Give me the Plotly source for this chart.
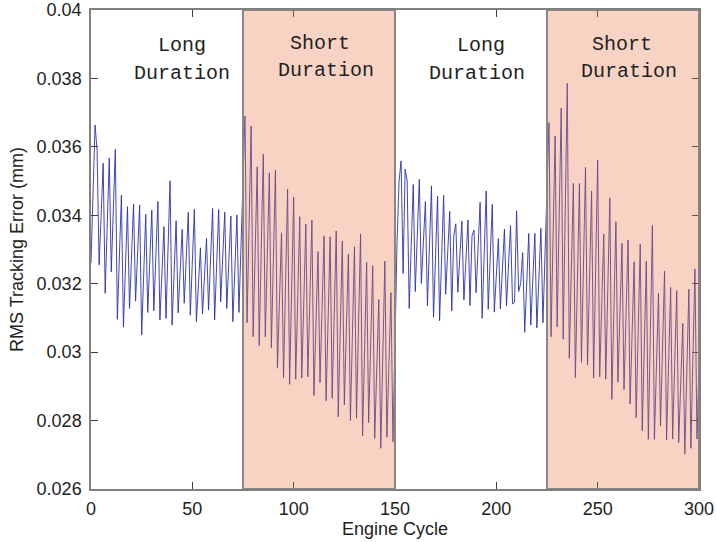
import plotly.graph_objects as go

# ---- data ----
cycles = list(range(0, 301))

long1 = [0.03260, 0.03480, 0.03664, 0.03590, 0.03255, 0.03400, 0.03552, 0.03172, 0.03370, 0.03567,
         0.03235, 0.03410, 0.03593, 0.03096, 0.03280, 0.03459, 0.03073, 0.03250, 0.03425, 0.03128,
         0.03280, 0.03433, 0.03149, 0.03290, 0.03430, 0.03050, 0.03230, 0.03403, 0.03116, 0.03265,
         0.03415, 0.03121, 0.03280, 0.03440, 0.03094, 0.03230, 0.03367, 0.03099, 0.03300, 0.03501,
         0.03079, 0.03230, 0.03384, 0.03115, 0.03240, 0.03359, 0.03143, 0.03275, 0.03409, 0.03108,
         0.03265, 0.03418, 0.03089, 0.03200, 0.03305, 0.03111, 0.03220, 0.03333, 0.03123, 0.03270,
         0.03420, 0.03094, 0.03255, 0.03417, 0.03147, 0.03280, 0.03409, 0.03128, 0.03265, 0.03398,
         0.03089, 0.03245, 0.03401, 0.03116, 0.03300]

short1 = [0.03500, 0.03690, 0.03086, 0.03370, 0.03661, 0.03045, 0.03290, 0.03542, 0.03019, 0.03300,
          0.03579, 0.03045, 0.03285, 0.03524, 0.03013, 0.03270, 0.03532, 0.02953, 0.03150, 0.03349,
          0.02926, 0.03200, 0.03476, 0.02906, 0.03180, 0.03453, 0.02921, 0.03160, 0.03396, 0.02924,
          0.03150, 0.03374, 0.02928, 0.03155, 0.03386, 0.02873, 0.03085, 0.03294, 0.02911, 0.03125,
          0.03340, 0.02858, 0.03100, 0.03337, 0.02865, 0.03110, 0.03354, 0.02811, 0.03070, 0.03325,
          0.02846, 0.03065, 0.03287, 0.02800, 0.03055, 0.03308, 0.02807, 0.03075, 0.03345, 0.02755,
          0.03010, 0.03263, 0.02794, 0.03025, 0.03253, 0.02748, 0.02950, 0.03154, 0.02719, 0.02995,
          0.03266, 0.02751, 0.02960, 0.03174, 0.02738]

long2 = [0.03060, 0.03320, 0.03500, 0.03559, 0.03230, 0.03535, 0.03500, 0.03128, 0.03310, 0.03490,
         0.03177, 0.03340, 0.03505, 0.03201, 0.03320, 0.03440, 0.03135, 0.03310, 0.03486, 0.03102,
         0.03280, 0.03456, 0.03092, 0.03275, 0.03458, 0.03169, 0.03290, 0.03411, 0.03121, 0.03340,
         0.03375, 0.03175, 0.03280, 0.03383, 0.03152, 0.03270, 0.03386, 0.03136, 0.03340, 0.03357,
         0.03174, 0.03305, 0.03438, 0.03099, 0.03285, 0.03471, 0.03125, 0.03280, 0.03432, 0.03117,
         0.03225, 0.03332, 0.03126, 0.03245, 0.03360, 0.03136, 0.03255, 0.03370, 0.03141, 0.03145,
         0.03413, 0.03177, 0.03200, 0.03291, 0.03058, 0.03200, 0.03347, 0.03079, 0.03215, 0.03347,
         0.03071, 0.03215, 0.03362, 0.03086, 0.03300]

short2 = [0.03500, 0.03671, 0.03045, 0.03340, 0.03632, 0.03074, 0.03395, 0.03713, 0.03038, 0.03410,
          0.03786, 0.02982, 0.03240, 0.03493, 0.02925, 0.03210, 0.03493, 0.02970, 0.03255, 0.03540,
          0.02962, 0.03215, 0.03471, 0.02924, 0.03245, 0.03562, 0.02928, 0.03135, 0.03345, 0.02921,
          0.03185, 0.03451, 0.02862, 0.03120, 0.03381, 0.02912, 0.03115, 0.03318, 0.02891, 0.03110,
          0.03328, 0.02848, 0.03055, 0.03264, 0.02808, 0.03060, 0.03316, 0.02770, 0.03020, 0.03266,
          0.02745, 0.03055, 0.03370, 0.02745, 0.02960, 0.03172, 0.02784, 0.03010, 0.03237, 0.02743,
          0.02965, 0.03189, 0.02746, 0.02965, 0.03180, 0.02736, 0.02910, 0.03084, 0.02702, 0.02945,
          0.03184, 0.02719, 0.02980, 0.03243, 0.02746, 0.02970]

rms_error = long1 + short1 + long2 + short2

shaded_spans = [(75, 150), (225, 300)]

label_texts = ["Long", "Duration", "Short", "Duration", "Long", "Duration", "Short", "Duration"]
label_x = [44.9, 44.9, 113.0, 116.0, 192.5, 190.4, 262.0, 265.4]
label_y = [0.03895, 0.03813, 0.03903, 0.03822, 0.03895, 0.03813, 0.03898, 0.03819]

x_ticks = [0, 50, 100, 150, 200, 250, 300]
y_ticks = [0.026, 0.028, 0.03, 0.032, 0.034, 0.036, 0.038, 0.04]

# ---- figure ----
fig = go.Figure()
fig.add_trace(go.Scatter(x=cycles, y=rms_error, mode="lines",
                         line=dict(color="rgb(45,50,170)", width=0.9),
                         showlegend=False, hoverinfo="skip"))

for a, b in shaded_spans:
    fig.add_shape(type="rect", xref="x", yref="y", x0=a, x1=b, y0=0.026, y1=0.04,
                  fillcolor="rgba(234,120,72,0.33)",
                  line=dict(color="rgb(135,135,135)", width=2), layer="above")

for t, xv, yv in zip(label_texts, label_x, label_y):
    fig.add_annotation(x=xv, y=yv, xref="x", yref="y", text=t, showarrow=False,
                       font=dict(family="Liberation Mono", size=20, color="#222222"),
                       xanchor="center", yanchor="middle")

axis_font = dict(family="Liberation Sans", size=18, color="#222222")
common = dict(showline=True, linecolor="rgb(128,128,128)", linewidth=1.5, mirror="allticks",
              ticks="inside", ticklen=7, tickwidth=1, tickcolor="rgb(60,60,60)",
              showgrid=False, zeroline=False, tickfont=axis_font, automargin=False)

fig.update_xaxes(range=[0, 300], tickvals=x_ticks, ticklabelstandoff=3,
                 title=dict(text="Engine Cycle", font=axis_font, standoff=1), **common)
fig.update_yaxes(range=[0.026, 0.04], tickvals=y_ticks, ticklabelstandoff=4,
                 title=dict(text="RMS Tracking Error (mm)", font=axis_font, standoff=8), **common)

fig.update_layout(width=716, height=542, margin=dict(l=91, r=17, t=10, b=53),
                  plot_bgcolor="white", paper_bgcolor="white",
                  font=dict(family="Liberation Sans"))

fig.write_html("out.html")
